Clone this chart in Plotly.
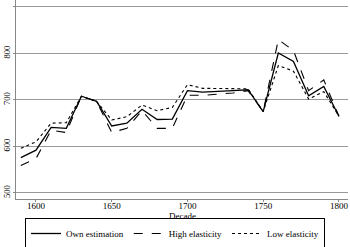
import plotly.graph_objects as go

decades = list(range(1590, 1801, 10))
own = [576, 592, 641, 639, 708, 697, 644, 650, 680, 658, 659, 720, 717, 718, 720, 722, 675, 801, 783, 709, 729, 665]
high = [559, 574, 635, 630, 708, 697, 630, 639, 677, 639, 639, 710, 710, 713, 715, 720, 675, 830, 806, 720, 743, 665]
low = [596, 610, 650, 651, 708, 697, 657, 664, 689, 677, 684, 733, 725, 725, 724, 724, 675, 774, 762, 702, 718, 665]
y_ticks = [500, 600, 700, 800, 900]
x_ticks = [1600, 1650, 1700, 1750, 1800]

font = "Liberation Serif, Times New Roman, serif"

fig = go.Figure()
fig.add_trace(go.Scatter(x=decades, y=own, mode="lines", name="Own estimation",
                         line=dict(color="black", width=1.3, dash="solid")))
fig.add_trace(go.Scatter(x=decades, y=high, mode="lines", name="High elasticity",
                         line=dict(color="black", width=1.1, dash="dash")))
fig.add_trace(go.Scatter(x=decades, y=low, mode="lines", name="Low elasticity",
                         line=dict(color="black", width=1.1, dash="dot")))

fig.update_layout(
    width=350, height=247,
    margin=dict(l=16, r=2, t=0, b=48, autoexpand=False),
    paper_bgcolor="white", plot_bgcolor="white",
    font=dict(family=font, size=9, color="black"),
    showlegend=True,
    legend=dict(orientation="h", x=0.5, xanchor="center", xref="container",
                y=(247 - 218) / 247, yanchor="top", yref="container",
                bordercolor="black", borderwidth=1, font=dict(size=9),
                tracegroupgap=0),
    xaxis=dict(range=[1586.8, 1806], tickvals=x_ticks, ticks="outside", ticklen=2,
               ticklabelstandoff=-4,
               showgrid=False, showline=True, linecolor="#888", linewidth=1,
               tickcolor="#888", zeroline=False, automargin=False),
    yaxis=dict(range=[487, 915], tickvals=y_ticks, ticks="outside", ticklen=2,
               tickangle=-90, showgrid=True, gridcolor="#999", gridwidth=1,
               showline=True, linecolor="#888", linewidth=1, tickcolor="#888",
               zeroline=False, tickfont=dict(size=8.5), automargin=False),
    annotations=[dict(text="Decade", xref="paper", yref="paper", x=0.5, y=-17 / 199,
                      xanchor="center", yanchor="middle", showarrow=False,
                      font=dict(size=9))],
)

fig.write_html("out.html", config={"displayModeBar": False},
               post_script="document.body.style.margin='0';document.body.style.overflow='hidden';")
